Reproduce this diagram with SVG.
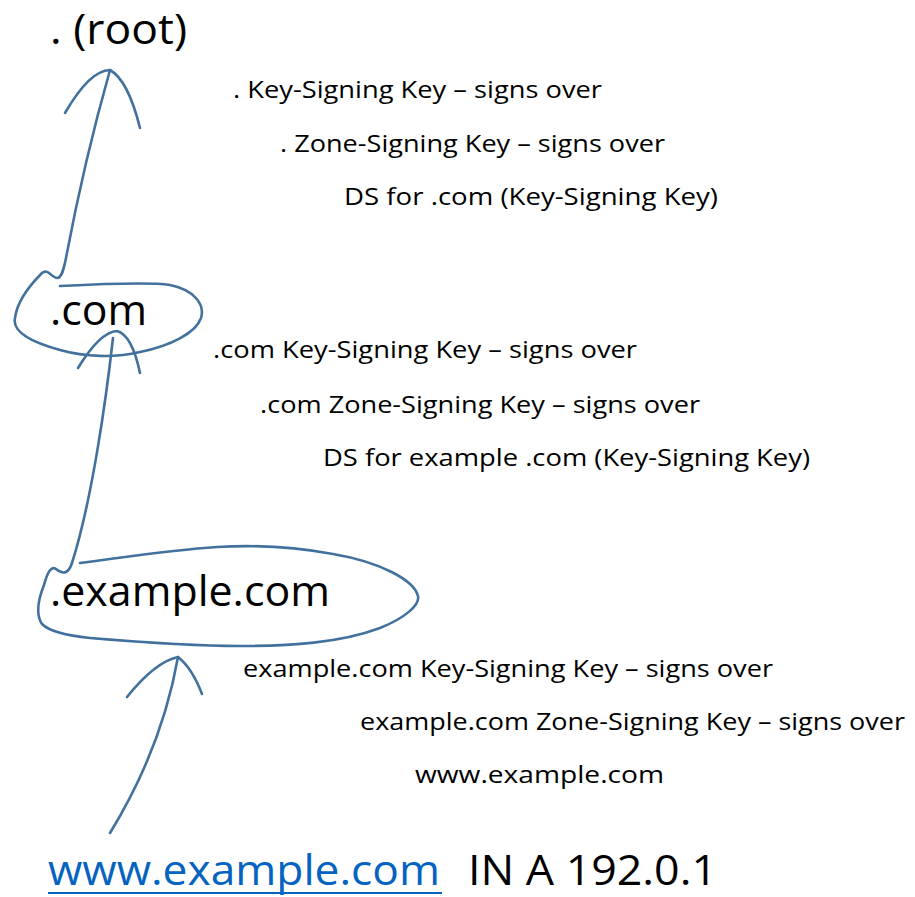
<svg xmlns="http://www.w3.org/2000/svg" width="915" height="897" viewBox="0 0 915 897">
<style>
  text { font-family: "Open Sans", "Noto Sans", "Liberation Sans", sans-serif; fill: #000; }
  .big { font-size: 42px; }
  .note { font-size: 24px; }
  .link { fill: #0563c1; }
  .ink { fill: none; stroke: #41719c; stroke-width: 2.6; stroke-linecap: round; stroke-linejoin: round; }
</style>
<rect width="915" height="897" fill="#fff"/>

<g id="connectors">
  <!-- .com ellipse + arrow up to root -->
  <path class="ink" d="M60,286 C100,284 150,282 170,285 C195,290 205,305 201,318 C196,333 170,346 140,352 C115,358 85,357 60,350 C30,342 12,332 15,318 C17,302 30,285 42,273 C48,268 52,278 57,278 C62,278 64,268 66,258 Q84,162 110,70"/>
  <path class="ink" d="M65,113 Q90,70 110,70 Q128,80 140,128"/>
  <!-- example.com ellipse + arrow up to .com -->
  <path class="ink" d="M113,338 C106,400 92,500 72,563 C68,575 62,574 56,569 C52,566 48,570 44,585 C38,600 36,615 42,624 C50,632 70,636 90,638 C150,643 200,646 240,646 C290,646 340,643 380,628 C405,618 420,605 418,596 C414,580 380,562 333,554 C290,546 250,545 217,547 C170,550 120,558 80,563"/>
  <path class="ink" d="M78,368 Q100,332 117,331 Q132,335 140,373"/>
  <!-- www arrow up to example.com -->
  <path class="ink" d="M110,833 Q162,748 178,657"/>
  <path class="ink" d="M127,697 Q155,662 178,657 Q192,668 202,694"/>
</g>

<g id="node-root">
  <text class="big" x="50" y="44" textLength="137" lengthAdjust="spacingAndGlyphs">. (root)</text>
</g>
<g id="notes-root">
  <text class="note" x="233" y="98" textLength="369" lengthAdjust="spacingAndGlyphs">. Key-Signing Key – signs over</text>
  <text class="note" x="280" y="152" textLength="385" lengthAdjust="spacingAndGlyphs">. Zone-Signing Key – signs over</text>
  <text class="note" x="344" y="205" textLength="374" lengthAdjust="spacingAndGlyphs">DS for .com (Key-Signing Key)</text>
</g>

<g id="node-com">
  <text class="big" x="50" y="325" textLength="97" lengthAdjust="spacingAndGlyphs">.com</text>
</g>
<g id="notes-com">
  <text class="note" x="213" y="358" textLength="424" lengthAdjust="spacingAndGlyphs">.com Key-Signing Key – signs over</text>
  <text class="note" x="260" y="413" textLength="440" lengthAdjust="spacingAndGlyphs">.com Zone-Signing Key – signs over</text>
  <text class="note" x="323" y="466" textLength="487" lengthAdjust="spacingAndGlyphs">DS for example .com (Key-Signing Key)</text>
</g>

<g id="node-example">
  <text class="big" x="50" y="606" textLength="280" lengthAdjust="spacingAndGlyphs">.example.com</text>
</g>
<g id="notes-example">
  <text class="note" x="243" y="677" textLength="530" lengthAdjust="spacingAndGlyphs">example.com Key-Signing Key – signs over</text>
  <text class="note" x="360" y="730" textLength="545" lengthAdjust="spacingAndGlyphs">example.com Zone-Signing Key – signs over</text>
  <text class="note" x="415" y="783" textLength="249" lengthAdjust="spacingAndGlyphs">www.example.com</text>
</g>

<g id="node-www">
  <text class="big link" x="48" y="885" textLength="392" lengthAdjust="spacingAndGlyphs">www.example.com</text>
  <line x1="48" y1="893" x2="442" y2="893" stroke="#0563c1" stroke-width="2"/>
  <text class="big" x="468" y="885" textLength="249" lengthAdjust="spacingAndGlyphs">IN A 192.0.1</text>
</g>
</svg>
